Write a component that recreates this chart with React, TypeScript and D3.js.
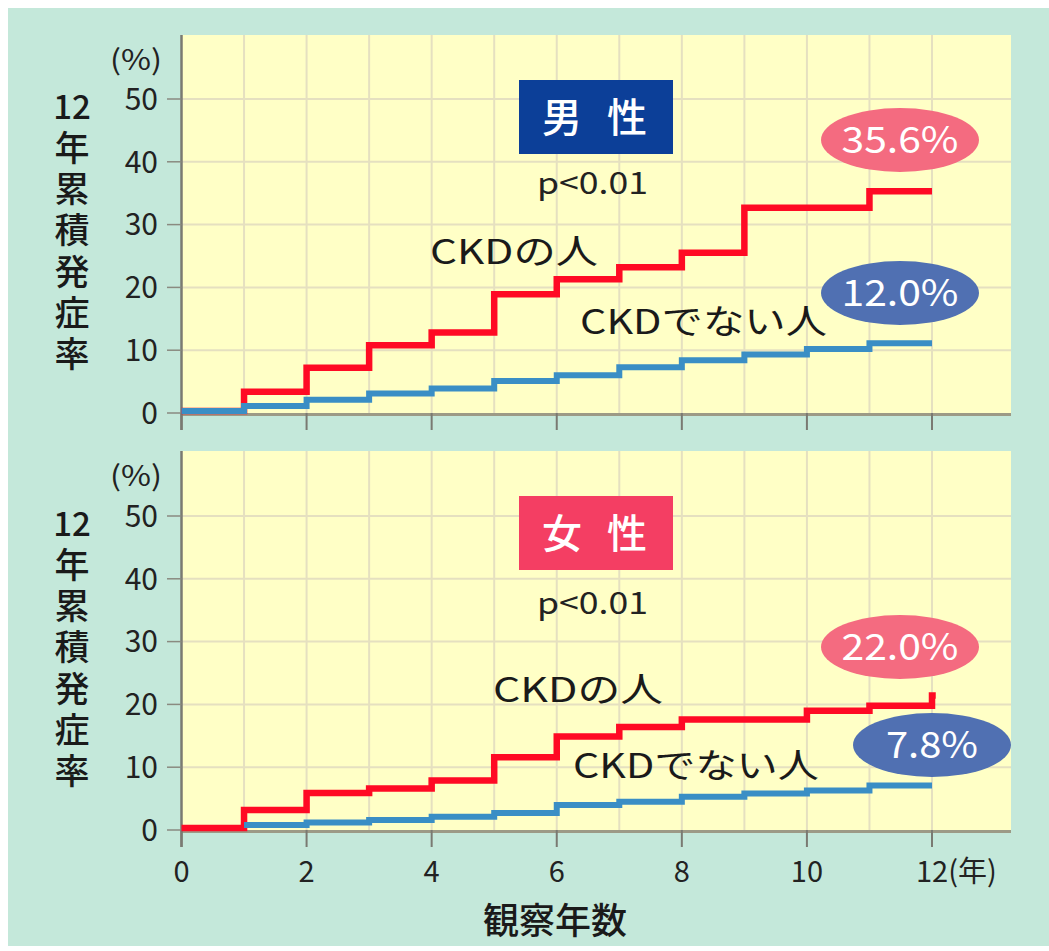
import React from "react";
import * as d3 from "d3";

// ---- Data ----
const xTicks = [0, 2, 4, 6, 8, 10, 12];
const yTicks = [0, 10, 20, 30, 40, 50];
const gridYears = [1, 2, 3, 4, 5, 6, 7, 8, 9, 10, 11, 12];
const gridValues = [10, 20, 30, 40, 50];

// cumulative incidence (%) from the start year, one value per year
const maleCKD = [0.3, 3.4, 7.2, 10.8, 12.8, 18.9, 21.3, 23.2, 25.5, 32.7, 32.7, 35.3];
const maleNonCKD = [0.3, 1.1, 2.1, 3.1, 3.9, 5.1, 6.0, 7.3, 8.4, 9.3, 10.2, 11.1];
const femaleCKD = [0.3, 3.2, 5.9, 6.6, 7.9, 11.6, 14.9, 16.4, 17.6, 17.6, 19.0, 19.8, 21.4];
const femaleNonCKD = [0.8, 1.2, 1.6, 2.1, 2.7, 4.0, 4.5, 5.3, 5.8, 6.3, 7.1];

const maleLabels = { title: "男 性", p: "p<0.01", ckd: "CKDの人", non: "CKDでない人", ckdPct: "35.6%", nonPct: "12.0%" };
const femaleLabels = { title: "女 性", p: "p<0.01", ckd: "CKDの人", non: "CKDでない人", ckdPct: "22.0%", nonPct: "7.8%" };
const yTitleNum = "12";
const yTitleText = "年累積発症率";

const FONT = "'Noto Sans CJK JP', 'Noto Sans', sans-serif";
const RED = "#ff0a24";
const BLUE = "#3a8ec5";

function stepPoints(start: number, vals: number[], end: number): [number, number][] {
  const pts: [number, number][] = vals.map((v, i) => [start + i, v]);
  pts.push([end, vals[vals.length - 1]]);
  return pts;
}

const x = d3.scaleLinear().domain([0, 12]).range([181.5, 932]);
const plotRight = 1011;

type PanelProps = {
  base: number;
  top: number;
  ckd: [number, number][];
  non: [number, number][];
  labels: typeof maleLabels;
  boxColor: string;
  layout: any;
};

function Panel({ base, top, ckd, non, labels, boxColor, layout }: PanelProps) {
  const y = d3.scaleLinear().domain([0, 50]).range([base, base - 314]);
  const line = d3
    .line<[number, number]>()
    .x((d) => x(d[0]))
    .y((d) => y(d[1]))
    .curve(d3.curveStepAfter);
  const L = layout;
  return (
    <g>
      <rect x={x(0)} y={top} width={plotRight - x(0)} height={base - top} fill="#ffffc6" />
      {gridYears.map((g) => (
        <line key={"gx" + g} x1={x(g)} x2={x(g)} y1={top} y2={base} stroke="#e5e0c0" strokeWidth={2} />
      ))}
      {gridValues.map((g) => (
        <line key={"gy" + g} x1={x(0)} x2={plotRight} y1={y(g)} y2={y(g)} stroke="#e5e0c0" strokeWidth={2} />
      ))}
      <line x1={x(0)} x2={plotRight} y1={base + 1.5} y2={base + 1.5} stroke="#9c9a86" strokeWidth={3} />
      <line x1={x(0)} x2={x(0)} y1={top} y2={base + 17} stroke="#7a7a72" strokeWidth={2.5} />
      {yTicks.map((t) => (
        <g key={"yt" + t}>
          <line x1={167} x2={x(0)} y1={y(t)} y2={y(t)} stroke="#8a8a80" strokeWidth={1.5} />
          <text x={158} y={y(t)} dy="0.36em" textAnchor="end" fontSize={30} fill="#222" fontFamily={FONT}>
            {t}
          </text>
        </g>
      ))}
      {xTicks.map((t) => (
        <line key={"xt" + t} x1={x(t)} x2={x(t)} y1={base} y2={base + 17} stroke="#7a7a72" strokeWidth={2} />
      ))}
      <text x={110} y={top + 25} dy="0.36em" fontSize={28} fill="#222" fontFamily={FONT} textLength={52} lengthAdjust="spacingAndGlyphs">
        (%)
      </text>
      <text x={72} y={base - 306} dy="0.36em" textAnchor="middle" fontSize={33} fontWeight={500} fill="#1a1a1a" fontFamily={FONT}>
        {yTitleNum}
      </text>
      <text
        x={72}
        y={base - 283}
        fontSize={35}
        fontWeight={500}
        fill="#1a1a1a"
        fontFamily={FONT}
        letterSpacing={6.3}
        style={{ writingMode: "vertical-rl", textOrientation: "upright" } as any}
      >
        {yTitleText}
      </text>
      <path d={line(ckd) || ""} fill="none" stroke={RED} strokeWidth={6.5} strokeLinejoin="miter" />
      <path d={line(non) || ""} fill="none" stroke={BLUE} strokeWidth={6} strokeLinejoin="miter" />
      <rect x={519} y={L.boxY} width={154} height={74} fill={boxColor} />
      <text x={562} y={L.boxY + 38} dy="0.36em" textAnchor="middle" fontSize={40} fontWeight={500} fill="#fff" fontFamily={FONT}>
        {labels.title.split(" ")[0]}
      </text>
      <text x={627} y={L.boxY + 38} dy="0.36em" textAnchor="middle" fontSize={40} fontWeight={500} fill="#fff" fontFamily={FONT}>
        {labels.title.split(" ")[1]}
      </text>
      <text x={537} y={L.pY} dy="0.36em" fontSize={30} fill="#222" fontFamily={FONT} textLength={111} lengthAdjust="spacingAndGlyphs">
        {labels.p}
      </text>
      <text x={L.ckdX} y={L.ckdY} dy="0.36em" fontSize={34} fill="#1a1a1a" fontFamily={FONT} textLength={L.ckdW} lengthAdjust="spacingAndGlyphs">
        {labels.ckd}
      </text>
      <text x={L.nonX} y={L.nonY} dy="0.36em" fontSize={34} fill="#1a1a1a" fontFamily={FONT} textLength={L.nonW} lengthAdjust="spacingAndGlyphs">
        {labels.non}
      </text>
      <ellipse cx={L.e1x} cy={L.e1y} rx={79} ry={32} fill="#f46b80" />
      <text x={L.e1x} y={L.e1y} dy="0.36em" textAnchor="middle" fontSize={37} fill="#fff" fontFamily={FONT} textLength={L.e1w} lengthAdjust="spacingAndGlyphs">
        {labels.ckdPct}
      </text>
      <ellipse cx={L.e2x} cy={L.e2y} rx={79} ry={32} fill="#5070b2" />
      <text x={L.e2x} y={L.e2y} dy="0.36em" textAnchor="middle" fontSize={37} fill="#fff" fontFamily={FONT} textLength={L.e2w} lengthAdjust="spacingAndGlyphs">
        {labels.nonPct}
      </text>
    </g>
  );
}

export default function App() {
  const maleLayout = {
    boxY: 80, pY: 183, ckdX: 430, ckdY: 252, ckdW: 168, nonX: 580, nonY: 322, nonW: 247,
    e1x: 900, e1y: 140, e1w: 117, e2x: 900, e2y: 293, e2w: 117,
  };
  const femaleLayout = {
    boxY: 496, pY: 603, ckdX: 493, ckdY: 690, ckdW: 170, nonX: 573, nonY: 766, nonW: 246,
    e1x: 900, e1y: 647, e1w: 117, e2x: 932, e2y: 745, e2w: 92,
  };
  return (
    <svg width={1049} height={951} style={{ position: "absolute", left: 0, top: 0 }} fontFamily={FONT}>
      <rect x={0} y={0} width={1049} height={951} fill="#ffffff" />
      <rect x={8} y={8} width={1041} height={938} fill="#c4e8da" />
      <Panel
        base={413}
        top={35}
        ckd={stepPoints(0, maleCKD, 12)}
        non={stepPoints(0, maleNonCKD, 12)}
        labels={maleLabels}
        boxColor="#0c3f98"
        layout={maleLayout}
      />
      <Panel
        base={830}
        top={451}
        ckd={stepPoints(0, femaleCKD, 12.06)}
        non={stepPoints(1, femaleNonCKD, 12)}
        labels={femaleLabels}
        boxColor="#f43e63"
        layout={femaleLayout}
      />
      {xTicks.map((t) => (
        <text
          key={"xl" + t}
          x={x(t)}
          y={872}
          dy="0.36em"
          textAnchor={t === 12 ? "start" : "middle"}
          dx={t === 12 ? -16 : 0}
          fontSize={29}
          fill="#222"
          fontFamily={FONT}
        >
          {t === 12 ? "12(年)" : t}
        </text>
      ))}
      <text x={555} y={921} dy="0.36em" textAnchor="middle" fontSize={36} fontWeight={500} fill="#1a1a1a" fontFamily={FONT}>
        観察年数
      </text>
    </svg>
  );
}
